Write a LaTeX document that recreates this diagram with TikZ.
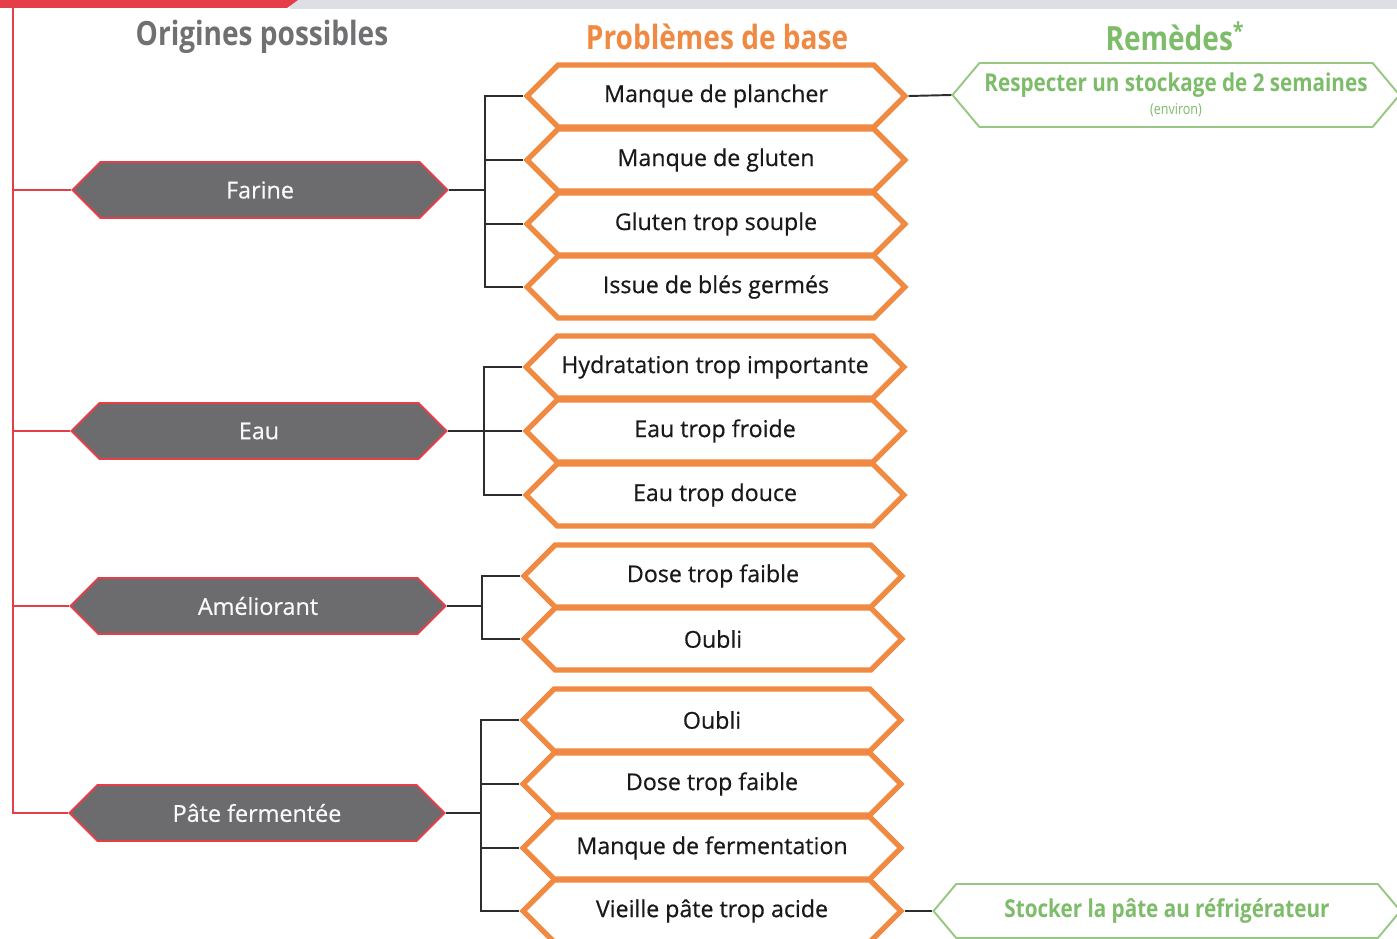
\documentclass[tikz,border=0pt]{standalone}
\usepackage{fontspec}
\setmainfont{Open Sans}
\newfontfamily\bodyfont{Open Sans}[FakeBold=0.5]
\newfontfamily\headfont[FakeStretch=0.84]{Open Sans}
\usetikzlibrary{shapes.symbols}
\definecolor{redline}{RGB}{230,62,72}
\definecolor{grayfill}{RGB}{108,108,110}
\definecolor{orangeline}{RGB}{240,137,66}
\definecolor{greenline}{RGB}{150,200,130}
\definecolor{greentext}{RGB}{125,188,105}
\definecolor{headgray}{RGB}{112,112,114}
\definecolor{bandgray}{RGB}{222,223,229}
\definecolor{linkgray}{RGB}{45,45,45}

\begin{document}
\begin{tikzpicture}
[
x=0.02cm, y=-0.02cm,
hexa/.style={signal, signal to=east and west, signal pointer angle=#1, inner sep=0pt},
origin/.style={hexa=90, draw=redline, line width=1.1pt, fill=grayfill, text=white!95!gray,
               minimum width=7.5cm, minimum height=1.12cm, font=\bodyfont\fontsize{13.3}{15}\selectfont},
problem/.style={hexa=90, draw=orangeline, line width=3pt, fill=white, text=black!90,
               minimum width=7.56cm, minimum height=1.24cm, font=\bodyfont\fontsize{13.2}{15}\selectfont},
remedy/.style={hexa=100, draw=greenline, line width=1.1pt, fill=white, text=greentext, align=center,
               font=\headfont\bfseries\fontsize{14}{16}\selectfont},
heading/.style={font=\headfont\bfseries\fontsize{19}{22}\selectfont},
link/.style={draw=linkgray, line width=1.1pt},
redlink/.style={draw=redline, line width=1.7pt},
]
\useasboundingbox (0,0) rectangle (1397,939);

%Top band
\fill[bandgray] (290,0) rectangle (1397,9);
\fill[redline] (0,0) -- (298,0) -- (287,8) -- (0,8) -- cycle;

%Headings
\node[heading, text=headgray] (hOrig) at (262,37) {Origines possibles};
\node[heading, text=orangeline] (hProb) at (717,37) {Problèmes de base};
\node[heading, text=greentext] (hRem) at (1175,36) {Remèdes\textsuperscript{*}};

%Place the nodes
\node[origin] (farine) at (260,190) {Farine};
\node[origin] (eau) at (259,431) {Eau};
\node[origin] (amel) at (258,606) {Améliorant};
\node[origin] (pate) at (257,813) {Pâte fermentée};

\node[problem] (f1) at (716,96) {Manque de plancher};
\node[problem] (f2) at (716,160) {Manque de gluten};
\node[problem] (f3) at (716,224) {Gluten trop souple};
\node[problem] (f4) at (716,287) {Issue de blés germés};

\node[problem] (e1) at (715,367) {Hydratation trop importante};
\node[problem] (e2) at (715,431) {Eau trop froide};
\node[problem] (e3) at (715,495) {Eau trop douce};

\node[problem] (a1) at (713,576) {Dose trop faible};
\node[problem] (a2) at (713,639) {Oubli};

\node[problem] (p1) at (712,720) {Oubli};
\node[problem] (p2) at (712,784) {Dose trop faible};
\node[problem] (p3) at (712,848) {Manque de fermentation};
\node[problem] (p4) at (712,911) {Vieille pâte trop acide};

\node[remedy, minimum width=8.94cm, minimum height=1.28cm] (r1) at (1176,95)
  {Respecter un stockage de 2 semaines\\[-3pt]{\fontsize{8.5}{9}\selectfont\mdseries (environ)}};
\node[remedy, minimum width=9.34cm, minimum height=1.08cm] (r2) at (1167,911)
  {Stocker la pâte au réfrigérateur};

%Draw the connections
\coordinate (root) at (13,0);
\foreach \o in {farine,eau,amel,pate}
  \draw[redlink] (root) |- (\o.west);

\coordinate (jf) at (485,190);
\coordinate (je) at (484,431);
\coordinate (ja) at (482,606);
\coordinate (jp) at (481,813);
\draw[link] (farine.east) -- (jf);
\draw[link] (eau.east) -- (je);
\draw[link] (amel.east) -- (ja);
\draw[link] (pate.east) -- (jp);
\foreach \p in {f1,f2,f3,f4}
  \draw[link] (jf) |- (\p.west);
\foreach \p in {e1,e2,e3}
  \draw[link] (je) |- (\p.west);
\foreach \p in {a1,a2}
  \draw[link] (ja) |- (\p.west);
\foreach \p in {p1,p2,p3,p4}
  \draw[link] (jp) |- (\p.west);

\draw[link] (f1.east) -- (r1.west);
\draw[link] (p4.east) -- (r2.west);
\end{tikzpicture}
\end{document}
